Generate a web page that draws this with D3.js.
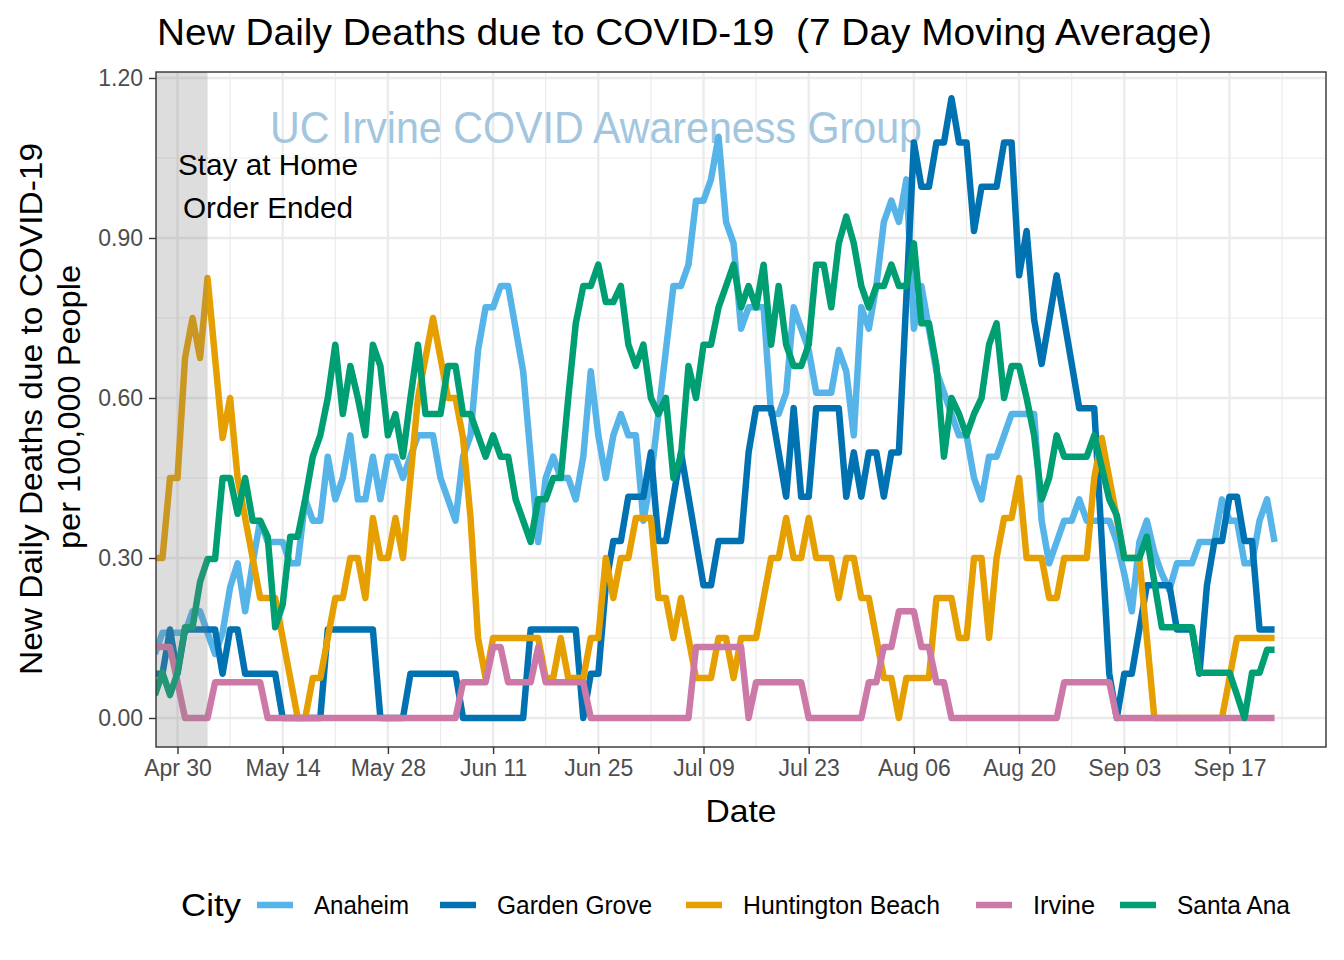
<!DOCTYPE html>
<html>
<head>
<meta charset="utf-8">
<script src="https://cdn.jsdelivr.net/npm/d3@7"></script>
<style>
  html, body { margin: 0; padding: 0; background: #ffffff; }
  svg { display: block; }
  text { font-family: "Liberation Sans", Arial, Helvetica, sans-serif; }
</style>
</head>
<body>
<svg id="chart" width="1344" height="960"></svg>
<script>
// ---------------- DATA ----------------
const startDate = "2020-04-27"; // first day of the 7-day averages (one value per day)
const cities = ["Anaheim", "Garden Grove", "Huntington Beach", "Irvine", "Santa Ana"];
const cityColors = ["#56B4E9", "#0072B2", "#E69F00", "#CC79A7", "#009E73"];

const anaheim = [
  0.12,0.16,0.16,0.16,0.16,0.20,0.20,0.16,0.12,0.16,
  0.245,0.29,0.20,0.29,0.37,0.33,0.33,0.33,0.29,0.29,
  0.41,0.37,0.37,0.49,0.41,0.45,0.53,0.41,0.41,0.49,
  0.41,0.49,0.49,0.45,0.49,0.53,0.53,0.53,0.45,0.41,
  0.37,0.49,0.53,0.69,0.77,0.77,0.81,0.81,0.73,0.65,
  0.49,0.33,0.45,0.49,0.45,0.45,0.41,0.49,0.65,0.53,
  0.45,0.53,0.57,0.53,0.53,0.37,0.45,0.57,0.69,0.81,
  0.81,0.85,0.97,0.97,1.01,1.09,0.93,0.89,0.73,0.77,
  0.77,0.77,0.57,0.57,0.61,0.77,0.73,0.69,0.61,0.61,
  0.61,0.69,0.65,0.53,0.77,0.73,0.81,0.93,0.97,0.93,
  1.01,0.73,0.81,0.73,0.65,0.61,0.57,0.53,0.53,0.45,
  0.41,0.49,0.49,0.53,0.57,0.57,0.57,0.57,0.37,0.29,
  0.33,0.37,0.37,0.41,0.37,0.37,0.37,0.37,0.33,0.27,
  0.20,0.33,0.37,0.31,0.27,0.24,0.29,0.29,0.29,0.33,
  0.33,0.33,0.41,0.37,0.37,0.29,0.29,0.37,0.41,0.33
];
const gardenGrove = [
  0.083,0.083,0.166,0.083,0.166,0.166,0.166,0.166,0.166,0.083,
  0.166,0.166,0.083,0.083,0.083,0.083,0.083,0,0,0,
  0,0,0,0.166,0.166,0.166,0.166,0.166,0.166,0.166,
  0,0,0,0,0.083,0.083,0.083,0.083,0.083,0.083,
  0.083,0,0,0,0,0,0,0,0,0,
  0.166,0.166,0.166,0.166,0.166,0.166,0.166,0,0.083,0.083,
  0.249,0.332,0.332,0.415,0.415,0.415,0.498,0.332,0.332,0.415,
  0.498,0.415,0.332,0.249,0.249,0.332,0.332,0.332,0.332,0.498,
  0.581,0.581,0.581,0.498,0.415,0.581,0.415,0.415,0.581,0.581,
  0.581,0.581,0.415,0.498,0.415,0.498,0.498,0.415,0.498,0.498,
  0.79,1.079,0.996,0.996,1.079,1.079,1.162,1.079,1.079,0.913,
  0.996,0.996,0.996,1.079,1.079,0.83,0.913,0.747,0.664,0.747,
  0.83,0.747,0.664,0.581,0.581,0.581,0.332,0.083,0,0.083,
  0.083,0.166,0.249,0.249,0.249,0.249,0.166,0.166,0.166,0.083,
  0.249,0.332,0.332,0.415,0.415,0.332,0.332,0.166,0.166,0.166
];
const huntingtonBeach = [
  0.30,0.30,0.45,0.45,0.675,0.75,0.675,0.825,0.675,0.525,
  0.60,0.45,0.375,0.30,0.225,0.225,0.225,0.15,0.075,0,
  0,0.075,0.075,0.15,0.225,0.225,0.30,0.30,0.225,0.375,
  0.30,0.30,0.375,0.30,0.45,0.60,0.675,0.75,0.675,0.60,
  0.60,0.525,0.375,0.15,0.075,0.15,0.15,0.15,0.15,0.15,
  0.15,0.15,0.075,0.075,0.15,0.075,0.075,0.075,0.15,0.15,
  0.30,0.225,0.30,0.30,0.375,0.375,0.375,0.225,0.225,0.15,
  0.225,0.15,0.075,0.075,0.075,0.15,0.15,0.075,0.15,0.15,
  0.15,0.225,0.30,0.30,0.375,0.30,0.30,0.375,0.30,0.30,
  0.30,0.225,0.30,0.30,0.225,0.225,0.15,0.075,0.075,0,
  0.075,0.075,0.075,0.075,0.225,0.225,0.225,0.15,0.15,0.30,
  0.30,0.15,0.30,0.375,0.375,0.45,0.30,0.30,0.30,0.225,
  0.225,0.30,0.30,0.30,0.30,0.45,0.525,0.45,0.375,0.30,
  0.30,0.30,0.15,0,0,0,0,0,0,0,
  0,0,0,0.075,0.15,0.15,0.15,0.15,0.15,0.15
];
const irvine = [
  0.133,0.133,0.133,0.067,0,0,0,0,0.067,0.067,
  0.067,0.067,0.067,0.067,0.067,0,0,0,0,0,
  0,0,0,0,0,0,0,0,0,0,
  0,0,0,0,0,0,0,0,0,0,
  0,0.067,0.067,0.067,0.067,0.133,0.133,0.067,0.067,0.067,
  0.067,0.133,0.067,0.067,0.067,0.067,0.067,0.067,0,0,
  0,0,0,0,0,0,0,0,0,0,
  0,0,0.133,0.133,0.133,0.133,0.133,0.133,0.133,0,
  0.067,0.067,0.067,0.067,0.067,0.067,0.067,0,0,0,
  0,0,0,0,0,0.067,0.067,0.133,0.133,0.2,
  0.2,0.2,0.133,0.133,0.067,0.067,0,0,0,0,
  0,0,0,0,0,0,0,0,0,0,
  0,0.067,0.067,0.067,0.067,0.067,0.067,0.067,0,0,
  0,0,0,0,0,0,0,0,0,0,
  0,0,0,0,0,0,0,0,0,0
];
const santaAna = [
  0.043,0.085,0.043,0.085,0.17,0.17,0.255,0.298,0.298,0.45,
  0.45,0.383,0.45,0.37,0.37,0.34,0.17,0.213,0.34,0.34,
  0.41,0.49,0.53,0.60,0.70,0.57,0.66,0.60,0.53,0.70,
  0.66,0.53,0.57,0.49,0.60,0.70,0.57,0.57,0.57,0.66,
  0.66,0.57,0.57,0.53,0.49,0.53,0.49,0.49,0.41,0.37,
  0.33,0.41,0.41,0.45,0.45,0.60,0.74,0.81,0.81,0.85,
  0.78,0.78,0.81,0.70,0.66,0.70,0.60,0.57,0.60,0.45,
  0.49,0.66,0.60,0.70,0.70,0.77,0.81,0.85,0.77,0.81,
  0.77,0.85,0.70,0.81,0.70,0.66,0.66,0.70,0.85,0.85,
  0.77,0.89,0.94,0.89,0.81,0.77,0.81,0.81,0.85,0.81,
  0.81,0.89,0.74,0.74,0.66,0.49,0.60,0.57,0.53,0.57,
  0.60,0.70,0.74,0.60,0.66,0.66,0.60,0.53,0.41,0.45,
  0.53,0.49,0.49,0.49,0.49,0.53,0.47,0.41,0.38,0.30,
  0.30,0.30,0.34,0.255,0.17,0.17,0.17,0.17,0.17,0.085,
  0.085,0.085,0.085,0.085,0.043,0,0.085,0.085,0.128,0.128
];
const seriesValues = [anaheim, gardenGrove, huntingtonBeach, irvine, santaAna];

const xTickDates = ["2020-04-30","2020-05-14","2020-05-28","2020-06-11","2020-06-25","2020-07-09",
                    "2020-07-23","2020-08-06","2020-08-20","2020-09-03","2020-09-17"];
const xTickLabels = ["Apr 30","May 14","May 28","Jun 11","Jun 25","Jul 09",
                     "Jul 23","Aug 06","Aug 20","Sep 03","Sep 17"];
const yTicks = [0, 0.3, 0.6, 0.9, 1.2];
const yTickLabels = ["0.00","0.30","0.60","0.90","1.20"];
const stayHomeEnd = "2020-05-04";

const titleText = "New Daily Deaths due to COVID-19  (7 Day Moving Average)";
const xTitle = "Date";
const yTitleLines = ["New Daily Deaths due to COVID-19", "per 100,000 People"];
const watermark = "UC Irvine COVID Awareness Group";
const annotationLines = ["Stay at Home", "Order Ended"];
const legendTitle = "City";

// ---------------- LAYOUT ----------------
const panel = { left: 156, right: 1326, top: 72, bottom: 747 };
const parse = d3.utcParse("%Y-%m-%d");
const t0 = parse(startDate);
const dates = anaheim.map((_, i) => d3.utcDay.offset(t0, i));

const x = d3.scaleUtc()
  .domain([parse("2020-04-30"), parse("2020-09-17")])
  .range([177.5, 1229.5]);
const y = d3.scaleLinear().domain([0, 1.2]).range([718, 78]);

const svg = d3.select("#chart");

function fit(sel, w) {
  if (w) sel.attr("textLength", w).attr("lengthAdjust", "spacingAndGlyphs");
  return sel;
}

svg.append("rect").attr("x", panel.left).attr("y", panel.top)
  .attr("width", panel.right - panel.left).attr("height", panel.bottom - panel.top)
  .attr("fill", "#ffffff");

svg.append("defs").append("clipPath").attr("id", "pclip")
  .append("rect").attr("x", panel.left).attr("y", panel.top)
  .attr("width", panel.right - panel.left).attr("height", panel.bottom - panel.top);

const gGrid = svg.append("g").attr("clip-path", "url(#pclip)");
const minorX = xTickDates.map(s => d3.utcDay.offset(parse(s), 7)).concat([d3.utcDay.offset(parse(xTickDates[0]), -7)]);
const minorY = [0.15, 0.45, 0.75, 1.05];
gGrid.selectAll(".mx").data(minorX).join("line")
  .attr("x1", d => x(d)).attr("x2", d => x(d))
  .attr("y1", panel.top).attr("y2", panel.bottom)
  .attr("stroke", "#ebebeb").attr("stroke-width", 1.2);
gGrid.selectAll(".my").data(minorY).join("line")
  .attr("y1", d => y(d)).attr("y2", d => y(d))
  .attr("x1", panel.left).attr("x2", panel.right)
  .attr("stroke", "#ebebeb").attr("stroke-width", 1.2);
gGrid.selectAll(".Mx").data(xTickDates.map(parse)).join("line")
  .attr("x1", d => x(d)).attr("x2", d => x(d))
  .attr("y1", panel.top).attr("y2", panel.bottom)
  .attr("stroke", "#ebebeb").attr("stroke-width", 2.4);
gGrid.selectAll(".My").data(yTicks).join("line")
  .attr("y1", d => y(d)).attr("y2", d => y(d))
  .attr("x1", panel.left).attr("x2", panel.right)
  .attr("stroke", "#ebebeb").attr("stroke-width", 2.4);

// watermark
svg.append("text").attr("x", 596).attr("y", 143)
  .attr("text-anchor", "middle").attr("font-size", 44)
  .attr("fill", "#a3c6df").text(watermark)
  .call(fit, 652);

// lines
const gLines = svg.append("g").attr("clip-path", "url(#pclip)");
const line = d3.line().x((d, i) => x(dates[i])).y(d => y(d)).curve(d3.curveLinear);
seriesValues.forEach((vals, k) => {
  gLines.append("path").datum(vals)
    .attr("d", line)
    .attr("fill", "none")
    .attr("stroke", cityColors[k])
    .attr("stroke-width", 6.5)
    .attr("stroke-linejoin", "round")
    .attr("stroke-linecap", "butt");
});

// stay at home shaded band
svg.append("rect")
  .attr("x", panel.left).attr("y", panel.top)
  .attr("width", x(parse(stayHomeEnd)) - panel.left)
  .attr("height", panel.bottom - panel.top)
  .attr("fill", "#808080").attr("fill-opacity", 0.27);

// annotation
svg.append("text").attr("x", 268).attr("y", 175).attr("text-anchor", "middle")
  .attr("font-size", 29).attr("fill", "#000").text(annotationLines[0]).call(fit, 180);
svg.append("text").attr("x", 268).attr("y", 218).attr("text-anchor", "middle")
  .attr("font-size", 29).attr("fill", "#000").text(annotationLines[1]).call(fit, 170);

// panel border
svg.append("rect").attr("x", panel.left).attr("y", panel.top)
  .attr("width", panel.right - panel.left).attr("height", panel.bottom - panel.top)
  .attr("fill", "none").attr("stroke", "#333333").attr("stroke-width", 1.4);

// axes
const xAxis = d3.axisBottom(x)
  .tickValues(xTickDates.map(parse))
  .tickFormat((d, i) => xTickLabels[i])
  .tickSize(7).tickPadding(6);
const gx = svg.append("g").attr("transform", `translate(0,${panel.bottom})`).call(xAxis);
gx.select(".domain").remove();
gx.selectAll(".tick line").attr("stroke", "#333333").attr("stroke-width", 1.4);
gx.selectAll(".tick text").attr("font-size", 23).attr("fill", "#4d4d4d")
  .attr("font-family", "Liberation Sans, Arial, sans-serif");

const yAxis = d3.axisLeft(y)
  .tickValues(yTicks)
  .tickFormat((d, i) => yTickLabels[i])
  .tickSize(7).tickPadding(6);
const gy = svg.append("g").attr("transform", `translate(${panel.left},0)`).call(yAxis);
gy.select(".domain").remove();
gy.selectAll(".tick line").attr("stroke", "#333333").attr("stroke-width", 1.4);
gy.selectAll(".tick text").attr("font-size", 23).attr("fill", "#4d4d4d")
  .attr("font-family", "Liberation Sans, Arial, sans-serif");

// title (keeps the double space)
svg.append("text").attr("x", 157).attr("y", 45).attr("font-size", 36)
  .style("white-space", "pre")
  .attr("fill", "#000").text(titleText).call(fit, 1055);

// axis titles
svg.append("text").attr("x", 741).attr("y", 822).attr("text-anchor", "middle")
  .attr("font-size", 32).attr("fill", "#000").text(xTitle).call(fit, 71);
svg.append("text").attr("transform", "translate(42,409) rotate(-90)")
  .attr("text-anchor", "middle").attr("font-size", 32).attr("fill", "#000")
  .text(yTitleLines[0]).call(fit, 532);
svg.append("text").attr("transform", "translate(80,407) rotate(-90)")
  .attr("text-anchor", "middle").attr("font-size", 32).attr("fill", "#000")
  .text(yTitleLines[1]).call(fit, 284);

// legend
const legendY = 905;
svg.append("text").attr("x", 181).attr("y", legendY + 11).attr("font-size", 32)
  .attr("fill", "#000").text(legendTitle).call(fit, 60);
const keyX = [257, 440, 686, 976, 1120];
const labelW = [95, 155, 197, 62, 113];
cities.forEach((c, i) => {
  svg.append("line").attr("x1", keyX[i]).attr("x2", keyX[i] + 36)
    .attr("y1", legendY).attr("y2", legendY)
    .attr("stroke", cityColors[i]).attr("stroke-width", 6.5);
  svg.append("text").attr("x", keyX[i] + 57).attr("y", legendY + 9)
    .attr("font-size", 25).attr("fill", "#000").text(c).call(fit, labelW[i]);
});
</script>
</body>
</html>
